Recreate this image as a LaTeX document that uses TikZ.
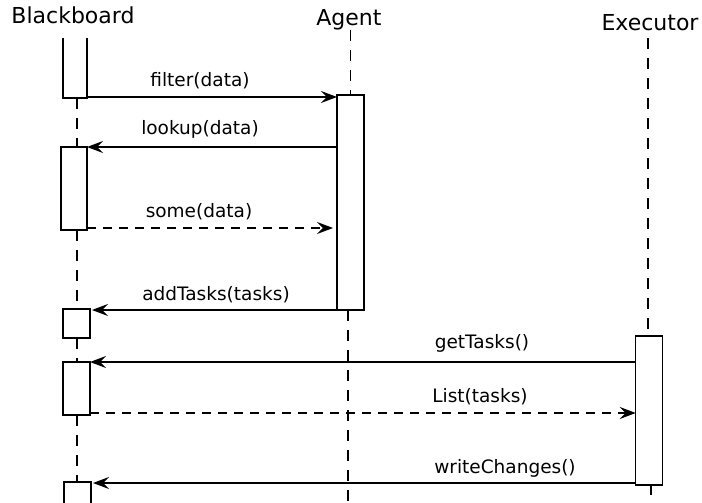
\documentclass[tikz,border=0pt]{standalone}
\usepackage{fontspec}
\setmainfont{DejaVu Sans}
\usetikzlibrary{arrows.meta}
\begin{document}
\begin{tikzpicture}[x=1pt,y=-1pt,
  every node/.style={inner sep=0pt, outer sep=0pt},
  actor/.style={anchor=base, font=\fontsize{22}{26}\selectfont},
  msglabel/.style={anchor=base, font=\fontsize{18.5}{22}\selectfont},
  actbox/.style={draw, line width=1.4pt, fill=white, rectangle},
  lifeline/.style={line width=1.4pt, dash pattern=on 11pt off 9pt},
  msg/.style={line width=1.4pt, -{Stealth[length=16pt,width=12pt,inset=6pt]}},
  reply/.style={msg, dash pattern=on 9pt off 7pt}]
\useasboundingbox (0,0) rectangle (702,503);

% participants
\node[actor] (bbname) at (73,24) {Blackboard};
\node[actor] (agname) at (349,26) {Agent};
\node[actor] (exname) at (650,31) {Executor};

% activation bars
\node[minimum width=24pt, minimum height=60pt] (bb1) at (75,68) {};
\draw[line width=1.4pt] (bb1.north west) -- (bb1.south west) -- (bb1.south east) -- (bb1.north east);
\node[actbox, minimum width=26pt, minimum height=83pt] (bb2) at (74,188.5) {};
\node[actbox, minimum width=27pt, minimum height=29pt] (bb3) at (76.5,323.5) {};
\node[actbox, minimum width=27pt, minimum height=53pt] (bb4) at (76.5,388.5) {};
\node[actbox, minimum width=27pt, minimum height=40pt] (bb5) at (77.5,502) {};
\node[actbox, minimum width=27pt, minimum height=215pt] (agbox) at (350.5,202.5) {};
\node[actbox, minimum width=26.5pt, minimum height=149pt] (exbox) at (649,410.5) {};

% lifelines
\coordinate (agend) at (348,503);
\coordinate (exend) at (651,495);
\draw[lifeline] (bb1.south) ++(2,0) -- (bb2.north -| 77,0);
\draw[lifeline] (bb2.south -| 77,0) -- (bb3.north -| 77,0);
\draw[lifeline] (bb3.south -| 77,0) -- (bb4.north -| 77,0);
\draw[lifeline] (bb4.south -| 77,0) -- (bb5.north -| 77,0);
\draw[lifeline] (agname.south -| agbox.north) ++(0,-1) -- (agbox.north);
\draw[lifeline] (agbox.south -| agend) -- (agend);
\draw[lifeline] (exname.south -| 648,0) ++(0,7) -- (exbox.north -| 648,0);
\draw[lifeline] (exbox.south -| exend) -- (exend);

% messages
\draw[msg] (bb1.south east) ++(0,-1) -- (agbox.west |- 0,97);
\node[msglabel] (m1) at (200,87) {filter(data)};
\draw[msg] (agbox.west |- bb2.north east) -- (bb2.north east);
\node[msglabel] (m2) at (200,135) {lookup(data)};
\draw[reply] (bb2.east |- 0,228) -- ([xshift=-4pt]agbox.west |- 0,228);
\node[msglabel] (m3) at (199,217) {some(data)};
\draw[msg] (agbox.south west) -- ([xshift=2pt]bb3.east |- agbox.south west);
\node[msglabel] (m4) at (216,300) {addTasks(tasks)};
\draw[msg] (exbox.west |- bb4.north east) -- (bb4.north east);
\node[msglabel] (m5) at (482,348) {getTasks()};
\draw[reply] (bb4.east |- 0,413) -- (exbox.west |- 0,413);
\node[msglabel] (m6) at (480,402) {List(tasks)};
\draw[msg] (exbox.west |- 0,483) -- ([xshift=2pt]bb5.east |- 0,483);
\node[msglabel] (m7) at (505,473) {writeChanges()};
\end{tikzpicture}
\end{document}
